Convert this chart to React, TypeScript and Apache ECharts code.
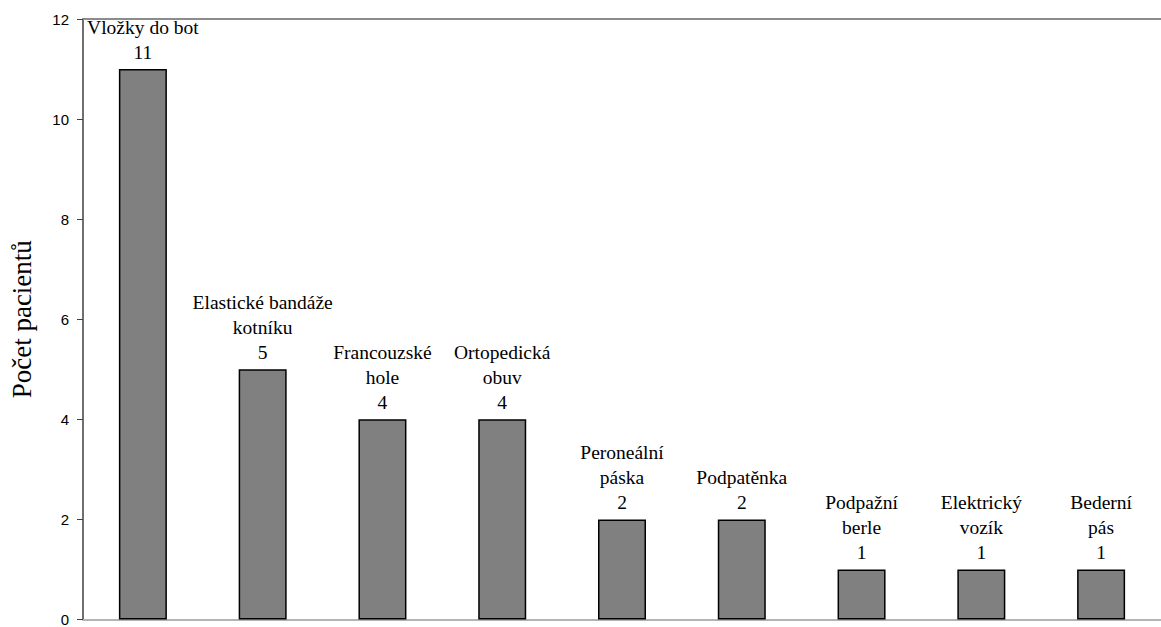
import React, { useEffect, useRef } from "react";
import * as echarts from "echarts";

// Orthopaedic aids used by patients
const categories: string[] = [
  "Vložky do bot",
  "Elastické bandáže\nkotníku",
  "Francouzské\nhole",
  "Ortopedická\nobuv",
  "Peroneální\npáska",
  "Podpatěnka",
  "Podpažní\nberle",
  "Elektrický\nvozík",
  "Bederní\npás",
];
const patientCounts: number[] = [11, 5, 4, 4, 2, 2, 1, 1, 1];
const yTicks = { min: 0, max: 12, interval: 2 };
const yAxisTitle = "Počet pacientů";

const SERIF = "Liberation Serif";
const SANS = "Liberation Sans";

export default function App() {
  const ref = useRef<HTMLDivElement>(null);

  useEffect(() => {
    if (!ref.current) return;
    const chart = echarts.init(ref.current, undefined, { renderer: "svg" });
    chart.setOption({
      animation: false,
      backgroundColor: "#ffffff",
      textStyle: { fontFamily: SERIF },
      grid: { left: 81, top: 19, width: 1089, height: 605, containLabel: false },
      xAxis: [
        {
          type: "category",
          data: categories,
          position: "bottom",
          axisLine: { show: true, lineStyle: { color: "#b4b4b4", width: 2 } },
          axisTick: { show: false },
          axisLabel: { show: false },
          splitLine: { show: false },
        },
        {
          type: "category",
          data: categories,
          position: "top",
          axisLine: { show: true, lineStyle: { color: "#8c8c8c", width: 2 } },
          axisTick: { show: false },
          axisLabel: { show: false },
          splitLine: { show: false },
        },
      ],
      yAxis: {
        type: "value",
        min: yTicks.min,
        max: yTicks.max,
        interval: yTicks.interval,
        name: yAxisTitle,
        nameLocation: "middle",
        nameGap: 48,
        nameRotate: 90,
        nameTextStyle: {
          fontFamily: SERIF,
          fontSize: 27,
          color: "#000000",
        },
        axisLine: { show: true, lineStyle: { color: "#404040", width: 1.5 } },
        axisTick: { show: true, inside: false, length: 6, lineStyle: { color: "#404040", width: 1 } },
        axisLabel: {
          margin: 14,
          fontFamily: SANS,
          fontSize: 15,
          color: "#000000",
        },
        splitLine: { show: false },
      },
      series: [
        {
          type: "bar",
          data: patientCounts,
          barWidth: 48,
          itemStyle: { color: "#808080", borderColor: "#000000", borderWidth: 1.5 },
          label: {
            show: true,
            position: "top",
            distance: 4,
            formatter: "{b}\n{c}",
            color: "#000000",
            align: "center",
            fontFamily: SERIF,
            fontSize: 19.5,
            lineHeight: 25,
          },
        },
      ],
    });
    return () => chart.dispose();
  }, []);

  return <div ref={ref} style={{ width: 1161, height: 627, position: "fixed", left: 0, top: 0 }} />;
}
